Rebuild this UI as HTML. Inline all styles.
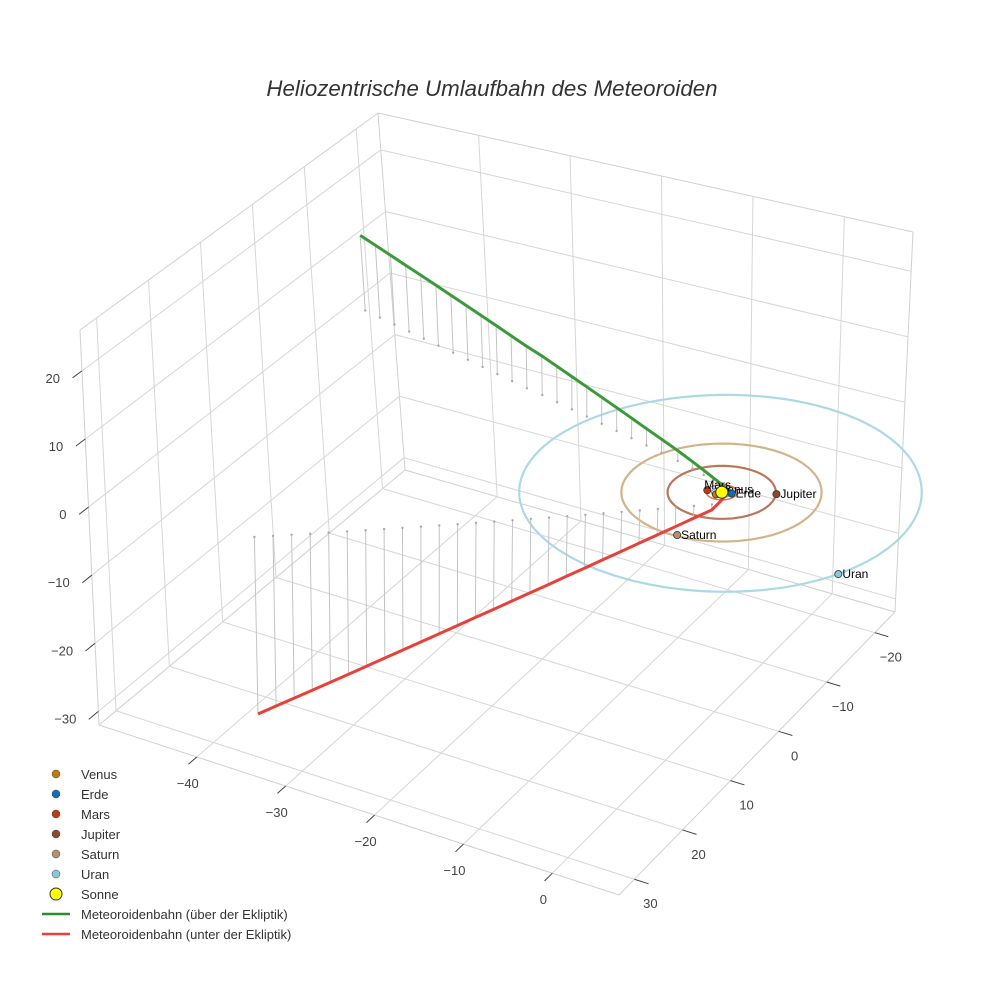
<!DOCTYPE html>
<html><head><meta charset="utf-8"><style>
body{margin:0;background:#fff;}
svg{display:block;font-family:"Liberation Sans",sans-serif;}
</style></head><body>
<svg id="chart" width="984" height="984" viewBox="0 0 984 984">
<rect width="984" height="984" fill="#fff"/>
<text x="492" y="96" text-anchor="middle" font-size="22.3" font-style="italic" fill="#333">Heliozentrische Umlaufbahn des Meteoroiden</text>
<g id="grid"></g><g id="orbits"></g><g id="drops"></g><g id="paths"></g><g id="planets"></g><g id="axes"></g>
<g id="legend" font-size="13" fill="#333">
<circle cx="56" cy="774" r="4" fill="#c07a10" stroke="#444" stroke-width="0.5"/><text x="81" y="779">Venus</text>
<circle cx="56" cy="794" r="4" fill="#1170b5" stroke="#444" stroke-width="0.5"/><text x="81" y="799">Erde</text>
<circle cx="56" cy="814" r="4" fill="#c03a10" stroke="#444" stroke-width="0.5"/><text x="81" y="819">Mars</text>
<circle cx="56" cy="834" r="4" fill="#8b4a2b" stroke="#444" stroke-width="0.5"/><text x="81" y="839">Jupiter</text>
<circle cx="56" cy="854" r="4" fill="#b89070" stroke="#444" stroke-width="0.5"/><text x="81" y="859">Saturn</text>
<circle cx="56" cy="874" r="4" fill="#88c8d8" stroke="#444" stroke-width="0.5"/><text x="81" y="879">Uran</text>
<circle cx="56" cy="894" r="6" fill="#ffff00" stroke="#333" stroke-width="1"/><text x="81" y="899">Sonne</text>
<line x1="42" y1="914" x2="70" y2="914" stroke="#2e8b2e" stroke-width="2.5"/><text x="81" y="919">Meteoroidenbahn (über der Ekliptik)</text>
<line x1="42" y1="934" x2="70" y2="934" stroke="#e8403a" stroke-width="2.5"/><text x="81" y="939">Meteoroidenbahn (unter der Ekliptik)</text>
</g>
</svg>
<script>
const xTicks=[-40,-30,-20,-10,0];
const yTicks=[-20,-10,0,10,20,30];
const zTicks=[-30,-20,-10,0,10,20];
const planetNames=['Venus','Erde','Mars','Jupiter','Saturn','Uran'];
const planetX=[-0.3,0.97,-1.45,4.9,0.2,17.6];
const planetY=[0.65,-0.24,0.3,-2.2,9.6,8.9];
const planetColors=['#c07a10','#1170b5','#c03a10','#8b4a2b','#b89070','#88c8d8'];
const orbitRadii=[0.72,1.0,1.52,5.3,9.8,19.7];
const orbitColors=['#d9a050','#6aa8d8','#d87a60','#b9785a','#d2b48c','#add8e6'];
const greenX=[-49,-47,-45,-43,-41,-39,-37,-35,-33,-31,-29,-27,-25,-23,-21,-19,-17,-15,-13,-11,-9,-6.8,-4.8,-3.2,-1.9,-0.9,0.0,0.5];
const greenY=[-16.1,-15.5,-14.9,-14.3,-13.7,-13.1,-12.5,-11.9,-11.3,-10.7,-10.1,-9.5,-9.0,-8.4,-7.8,-7.2,-6.6,-6.0,-5.4,-4.8,-4.2,-3.5,-2.8,-2.2,-1.7,-1.3,-0.9,-0.6];
const greenZ=[12,11.5,11,10.5,10,9.5,9,8.5,8,7.5,7,6.5,6,5.5,5,4.5,4,3.5,3,2.5,2,1.5,1.05,0.7,0.4,0.2,0.07,0.01];
const redX=[0.5,0.55,0.3,-1.1,-2.5,-3.9,-5.3,-6.7,-8.1,-9.5,-10.9,-12.3,-13.7,-15.1,-16.5,-17.9,-19.3,-20.7,-22.1,-23.5,-24.9,-26.3,-27.7,-29.1,-30.5,-31.9,-33.3,-34.7];
const redY=[-0.6,1.0,2.6,3.71,4.82,5.92,7.03,8.14,9.25,10.36,11.46,12.57,13.68,14.79,15.9,17.0,18.11,19.22,20.33,21.44,22.54,23.65,24.76,25.87,26.98,28.08,29.19,30.3];
const redZ=[-0.01,-0.3,-0.8,-1.79,-2.78,-3.76,-4.75,-5.74,-6.73,-7.72,-8.7,-9.69,-10.68,-11.67,-12.66,-13.64,-14.63,-15.62,-16.61,-17.6,-18.58,-19.57,-20.56,-21.55,-22.54,-23.52,-24.51,-25.5];

const XR=[-51,7.5],YR=[-24.2,33.2],ZR=[-32,26];
const C={ '000':[405,470],'100':[895,612],'010':[99,725],'110':[619,895],
 '001':[378,113],'101':[913,232],'011':[80,330],'111':[640,465]};
function lerp(a,b,t){return [a[0]+(b[0]-a[0])*t,a[1]+(b[1]-a[1])*t];}
function P(x,y,z){
 const u=(x-XR[0])/(XR[1]-XR[0]),v=(y-YR[0])/(YR[1]-YR[0]),w=(z-ZR[0])/(ZR[1]-ZR[0]);
 const b=lerp(lerp(C['000'],C['100'],u),lerp(C['010'],C['110'],u),v);
 const t=lerp(lerp(C['001'],C['101'],u),lerp(C['011'],C['111'],u),v);
 return lerp(b,t,w);
}
const NS='http://www.w3.org/2000/svg';
function mk(tag,attrs,parent){const e=document.createElementNS(NS,tag);for(const k in attrs)e.setAttribute(k,attrs[k]);parent.appendChild(e);return e;}
function seg(p,q,stroke,sw,parent){return mk('line',{x1:p[0],y1:p[1],x2:q[0],y2:q[1],stroke:stroke,'stroke-width':sw},parent);}
const grid=document.getElementById('grid'),axes=document.getElementById('axes');
const gc='#d6d6d6';
[[[XR[0],YR[0],ZR[0]],[XR[0],YR[0],ZR[1]]],[[XR[0],YR[0],ZR[1]],[XR[1],YR[0],ZR[1]]],[[XR[0],YR[0],ZR[1]],[XR[0],YR[1],ZR[1]]],
 [[XR[0],YR[1],ZR[0]],[XR[0],YR[1],ZR[1]]],[[XR[1],YR[0],ZR[0]],[XR[1],YR[0],ZR[1]]],
 [[XR[0],YR[1],ZR[0]],[XR[1],YR[1],ZR[0]]],[[XR[1],YR[1],ZR[0]],[XR[1],YR[0],ZR[0]]],
 [[XR[0],YR[0],ZR[0]],[XR[1],YR[0],ZR[0]]],[[XR[0],YR[0],ZR[0]],[XR[0],YR[1],ZR[0]]]].forEach(e=>{
 const l=seg(P(...e[0]),P(...e[1]),'#d0d0d0',1,grid);
 
 
});
xTicks.forEach(x=>{
 let l=seg(P(x,YR[0],ZR[0]),P(x,YR[1],ZR[0]),gc,1,grid);
 l=seg(P(x,YR[0],ZR[0]),P(x,YR[0],ZR[1]),gc,1,grid);
 l=seg(P(x,YR[1],ZR[0]),P(x,YR[1]+1.6,ZR[0]),'#444',1,axes);
 const p=P(x,YR[1],ZR[0]);
 const t=mk('text',{x:p[0]-9,y:p[1]+31,'text-anchor':'middle','font-size':13,fill:'#444'},axes);t.textContent=(x<0?'−':'')+Math.abs(x);
 
});
yTicks.forEach(y=>{
 let l=seg(P(XR[0],y,ZR[0]),P(XR[1],y,ZR[0]),gc,1,grid);
 l=seg(P(XR[0],y,ZR[0]),P(XR[0],y,ZR[1]),gc,1,grid);
 l=seg(P(XR[1],y,ZR[0]),P(XR[1]+1.6,y,ZR[0]),'#444',1,axes);
 const p=P(XR[1],y,ZR[0]);
 const t=mk('text',{x:p[0]+16,y:p[1]+29,'text-anchor':'middle','font-size':13,fill:'#444'},axes);t.textContent=(y<0?'−':'')+Math.abs(y);
 
});
zTicks.forEach(z=>{
 let l=seg(P(XR[0],YR[0],z),P(XR[1],YR[0],z),gc,1,grid);
 l=seg(P(XR[0],YR[0],z),P(XR[0],YR[1],z),gc,1,grid);
 l=seg(P(XR[0],YR[1],z),P(XR[0],YR[1]+1.8,z),'#444',1,axes);
 const p=P(XR[0],YR[1],z);
 const t=mk('text',{x:p[0]-22,y:p[1]+12,'text-anchor':'end','font-size':13,fill:'#444'},axes);t.textContent=(z<0?'−':'')+Math.abs(z);
 
});
const og=document.getElementById('orbits');
for(let i=orbitRadii.length-1;i>=0;i--){
 const pts=[];for(let k=0;k<=160;k++){const a=k/160*2*Math.PI;const p=P(orbitRadii[i]*Math.cos(a),orbitRadii[i]*Math.sin(a),0);pts.push(p[0].toFixed(1)+','+p[1].toFixed(1));}
 const e=mk('polyline',{points:pts.join(' '),fill:'none',stroke:orbitColors[i],'stroke-width':i>=3?2.2:1.5},og);
 
 
}
const dg=document.getElementById('drops');
function drops(X,Y,Z,name){for(let i=0;i<X.length;i++){const a=P(X[i],Y[i],Z[i]),b=P(X[i],Y[i],0);
 const l=seg(a,b,'#c4c4c4',1,dg);
 const c=mk('circle',{cx:b[0],cy:b[1],r:1.2,fill:'#aaa'},dg);}}
drops(greenX,greenY,greenZ,'green-dropline');
drops(redX,redY,redZ,'red-dropline');
const pg=document.getElementById('paths');
function path(X,Y,Z,col,name){const pts=X.map((x,i)=>P(x,Y[i],Z[i]).map(v=>v.toFixed(1)).join(','));
 const e=mk('polyline',{points:pts.join(' '),fill:'none',stroke:col,'stroke-width':3,'stroke-linejoin':'round'},pg);
 }
path(greenX,greenY,greenZ,'#3a9a3a','path-above-ecliptic');
path(redX,redY,redZ,'#e8403a','path-below-ecliptic');
const plg=document.getElementById('planets');
planetNames.forEach((n,i)=>{const p=P(planetX[i],planetY[i],0);
 const c=mk('circle',{cx:p[0],cy:p[1],r:3.6,fill:planetColors[i],stroke:'#333','stroke-width':0.8},plg);
 
 const t=mk('text',{x:p[0]+(n==='Mars'?-3:4),y:p[1]+(n==='Venus'||n==='Mars'?-1:4),'font-size':12,fill:'#000'},plg);t.textContent=n;
 
});
const s=P(0,0,0);
const sun=mk('circle',{cx:s[0],cy:s[1],r:6,fill:'#ffff00',stroke:'#333','stroke-width':1},plg);


</script>
</body></html>
